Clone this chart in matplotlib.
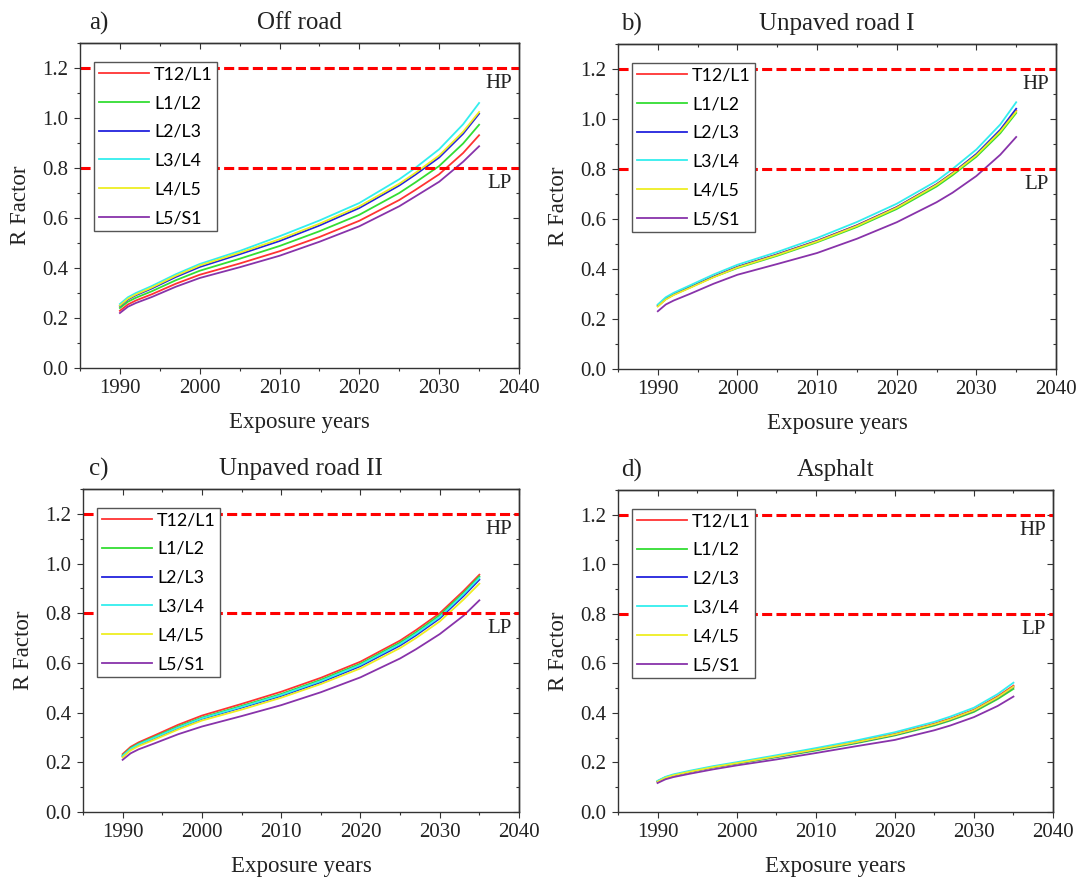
import matplotlib
matplotlib.use("Agg")
import matplotlib.pyplot as plt
import matplotlib.transforms as mtransforms
from matplotlib.ticker import MultipleLocator, FormatStrFormatter, NullFormatter

plt.rcParams['font.family'] = ['Liberation Serif', 'DejaVu Serif']

years = [1990, 1991, 1992, 1994, 1997, 2000, 2005, 2010, 2015, 2020, 2025, 2027, 2030, 2033, 2035]
labels = ['T12/L1', 'L1/L2', 'L2/L3', 'L3/L4', 'L4/L5', 'L5/S1']
colors = ['#ff3333', '#33dd33', '#2222dd', '#33eeee', '#eeee22', '#8833aa']

# values per segment, in label order
off_road = [
    [0.229, 0.254, 0.270, 0.295, 0.337, 0.373, 0.418, 0.467, 0.524, 0.589, 0.672, 0.712, 0.775, 0.860, 0.931],
    [0.240, 0.265, 0.281, 0.307, 0.351, 0.389, 0.437, 0.488, 0.547, 0.613, 0.700, 0.742, 0.808, 0.898, 0.973],
    [0.248, 0.274, 0.291, 0.318, 0.364, 0.404, 0.455, 0.508, 0.570, 0.640, 0.730, 0.773, 0.842, 0.937, 1.017],
    [0.256, 0.283, 0.300, 0.328, 0.375, 0.416, 0.468, 0.527, 0.590, 0.660, 0.755, 0.800, 0.875, 0.975, 1.060],
    [0.250, 0.277, 0.294, 0.322, 0.369, 0.410, 0.461, 0.515, 0.577, 0.647, 0.737, 0.780, 0.850, 0.945, 1.024],
    [0.220, 0.245, 0.260, 0.284, 0.325, 0.360, 0.403, 0.449, 0.505, 0.567, 0.647, 0.686, 0.745, 0.825, 0.887],
]
unpaved_1 = [
    [0.252, 0.280, 0.298, 0.326, 0.370, 0.409, 0.459, 0.513, 0.575, 0.648, 0.739, 0.784, 0.858, 0.952, 1.033],
    [0.256, 0.283, 0.300, 0.327, 0.368, 0.404, 0.453, 0.507, 0.568, 0.640, 0.730, 0.775, 0.849, 0.943, 1.024],
    [0.252, 0.280, 0.298, 0.326, 0.369, 0.408, 0.458, 0.512, 0.574, 0.647, 0.738, 0.783, 0.860, 0.957, 1.041],
    [0.258, 0.287, 0.305, 0.334, 0.378, 0.417, 0.468, 0.524, 0.588, 0.661, 0.752, 0.800, 0.878, 0.978, 1.067],
    [0.250, 0.278, 0.296, 0.324, 0.367, 0.406, 0.456, 0.510, 0.572, 0.645, 0.736, 0.781, 0.855, 0.950, 1.030],
    [0.231, 0.258, 0.274, 0.300, 0.341, 0.377, 0.420, 0.464, 0.521, 0.587, 0.667, 0.705, 0.772, 0.857, 0.928],
]
unpaved_2 = [
    [0.233, 0.262, 0.280, 0.308, 0.351, 0.388, 0.435, 0.484, 0.540, 0.605, 0.690, 0.732, 0.800, 0.890, 0.955],
    [0.228, 0.257, 0.275, 0.302, 0.344, 0.380, 0.427, 0.475, 0.532, 0.597, 0.682, 0.723, 0.792, 0.882, 0.948],
    [0.224, 0.252, 0.270, 0.296, 0.338, 0.375, 0.420, 0.467, 0.522, 0.587, 0.670, 0.711, 0.779, 0.869, 0.935],
    [0.226, 0.254, 0.272, 0.299, 0.340, 0.377, 0.423, 0.471, 0.527, 0.592, 0.676, 0.717, 0.785, 0.876, 0.942],
    [0.220, 0.248, 0.265, 0.291, 0.332, 0.368, 0.412, 0.460, 0.515, 0.578, 0.660, 0.700, 0.767, 0.855, 0.919],
    [0.210, 0.236, 0.252, 0.276, 0.313, 0.344, 0.386, 0.430, 0.482, 0.542, 0.618, 0.655, 0.716, 0.790, 0.852],
]
asphalt = [
    [0.123, 0.139, 0.149, 0.163, 0.182, 0.198, 0.225, 0.254, 0.283, 0.316, 0.357, 0.377, 0.413, 0.467, 0.510],
    [0.124, 0.140, 0.149, 0.162, 0.180, 0.195, 0.221, 0.248, 0.277, 0.309, 0.349, 0.369, 0.404, 0.456, 0.497],
    [0.122, 0.138, 0.148, 0.162, 0.181, 0.197, 0.223, 0.251, 0.280, 0.312, 0.353, 0.373, 0.409, 0.462, 0.505],
    [0.126, 0.142, 0.152, 0.166, 0.185, 0.201, 0.229, 0.258, 0.288, 0.322, 0.364, 0.385, 0.421, 0.476, 0.522],
    [0.122, 0.138, 0.148, 0.162, 0.181, 0.197, 0.224, 0.252, 0.281, 0.313, 0.354, 0.374, 0.410, 0.463, 0.506],
    [0.117, 0.132, 0.141, 0.154, 0.172, 0.188, 0.212, 0.238, 0.265, 0.291, 0.330, 0.349, 0.383, 0.428, 0.466],
]

panels = [off_road, unpaved_1, unpaved_2, asphalt]
titles = ['Off road', 'Unpaved road I', 'Unpaved road II', 'Asphalt']
letters = ['a)', 'b)', 'c)', 'd)']
limits = {'HP': 1.2, 'LP': 0.8}

W, H = 1082, 884
# axes boxes in pixels: left, top, right, bottom
boxes = [(80, 43, 519, 368), (618, 44, 1056, 369), (83, 489, 519, 812), (618, 490, 1053, 812)]
letter_dx = [9, 3, 6, 3]

fig = plt.figure(figsize=(W / 100, H / 100), dpi=100)
spine_col = '#333333'

for i, panel in enumerate(panels):
    l, t, r, b = boxes[i]
    ax = fig.add_axes([l / W, 1 - b / H, (r - l) / W, (b - t) / H])

    for lab, col, vals in zip(labels, colors, panel):
        ax.plot(years, vals, color=col, lw=1.3, label=lab)

    trans = mtransforms.blended_transform_factory(ax.transAxes, ax.transData)
    for name, lvl in limits.items():
        ax.axhline(lvl, color='#ff0000', lw=2.2, dashes=(3.3, 1.4))
        ax.text(0.984, lvl - 0.08, name, transform=trans, ha='right', va='baseline',
                fontsize=15, color='#222222')

    ax.set_xlim(1985, 2040)
    ax.set_ylim(0, 1.3)
    ax.xaxis.set_major_locator(MultipleLocator(10))
    ax.xaxis.set_minor_locator(MultipleLocator(5))
    ax.yaxis.set_major_locator(MultipleLocator(0.2))
    ax.yaxis.set_minor_locator(MultipleLocator(0.1))
    ax.yaxis.set_major_formatter(FormatStrFormatter('%.1f'))
    ax.tick_params(which='both', direction='out', width=0.8, color=spine_col,
                   labelsize=15, pad=4, labelcolor='#222222')
    ax.tick_params(which='major', length=4.2)
    ax.tick_params(which='minor', length=2.4)
    for sp in ax.spines.values():
        sp.set_color(spine_col)
        sp.set_linewidth(1.0)

    secx = ax.secondary_xaxis('top')
    secx.xaxis.set_major_locator(MultipleLocator(10))
    secx.xaxis.set_minor_locator(MultipleLocator(5))
    secx.xaxis.set_major_formatter(NullFormatter())
    secy = ax.secondary_yaxis('right')
    secy.yaxis.set_major_locator(MultipleLocator(0.2))
    secy.yaxis.set_minor_locator(MultipleLocator(0.1))
    secy.yaxis.set_major_formatter(NullFormatter())
    for sec in (secx, secy):
        sec.tick_params(which='both', direction='in', width=0.8, color=spine_col)
        sec.tick_params(which='major', length=4.2)
        sec.tick_params(which='minor', length=2.4)
        for sp in sec.spines.values():
            sp.set_color(spine_col)
            sp.set_linewidth(1.0)

    ax.set_xlabel('Exposure years', fontsize=16.5, labelpad=10, color='#222222')
    ax.set_ylabel('R Factor', fontsize=16.5, labelpad=8, color='#222222')
    ax.set_title(titles[i], fontsize=18, pad=10, color='#222222')
    ax.annotate(letters[i], xy=(0, 1), xycoords='axes fraction',
                xytext=(letter_dx[i] * 0.72, 10), textcoords='offset points',
                ha='left', va='baseline', fontsize=18, color='#222222')

    leg = ax.legend(loc='upper left', bbox_to_anchor=(0.033, 0.942), borderaxespad=0,
                    prop={'family': 'Lato', 'size': 12.8}, fancybox=False,
                    edgecolor='#555555', framealpha=1, handlelength=2.8,
                    handletextpad=0.3, labelspacing=0.72, borderpad=0.25)
    leg.get_frame().set_linewidth(1.0)

fig.savefig('out.png', dpi=100)
